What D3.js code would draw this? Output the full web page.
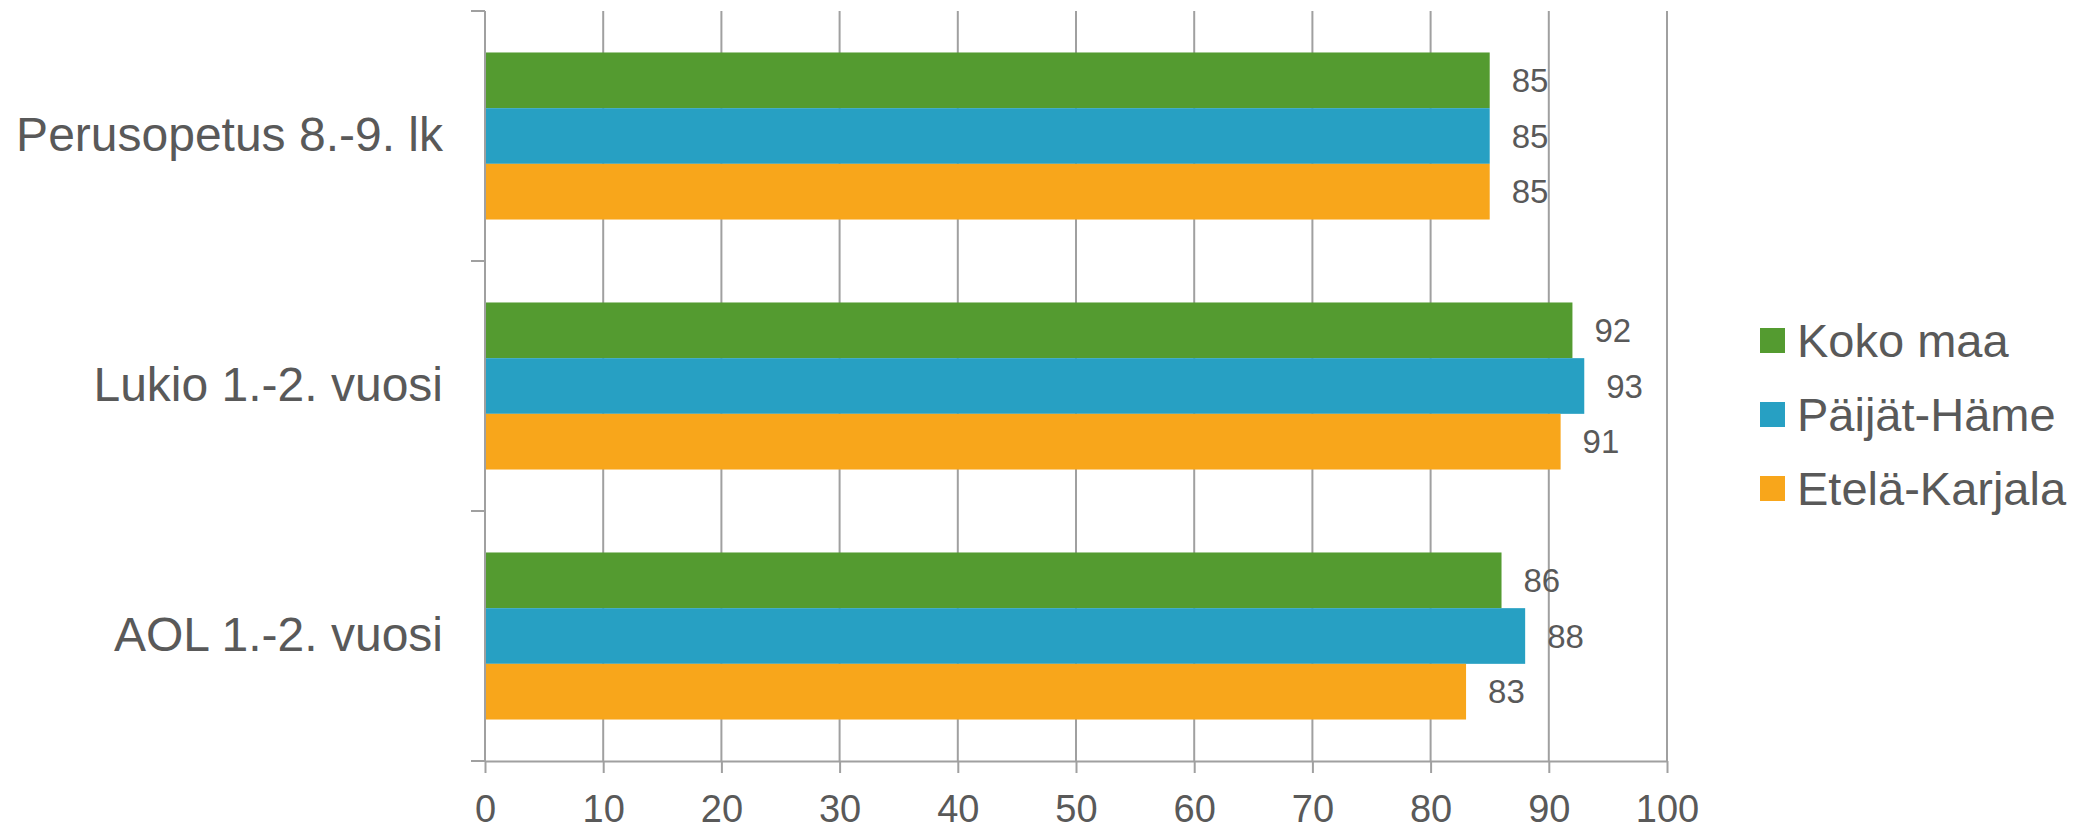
<!DOCTYPE html>
<html>
<head>
<meta charset="utf-8">
<script src="https://cdn.jsdelivr.net/npm/d3@7"></script>
<style>
  body { margin: 0; background: #fff; }
  text { font-family: "Liberation Sans", Arial, sans-serif; fill: #595959; }
</style>
</head>
<body>
<div id="chart"></div>
<script>
const width = 2083;
const height = 827;

const categories = ["Perusopetus 8.-9. lk", "Lukio 1.-2. vuosi", "AOL 1.-2. vuosi"];
const seriesNames = ["Koko maa", "Päijät-Häme", "Etelä-Karjala"];
const kokoMaa = [85, 92, 86];
const paijatHame = [85, 93, 88];
const etelaKarjala = [85, 91, 83];
const xTicks = [0, 10, 20, 30, 40, 50, 60, 70, 80, 90, 100];

const seriesValues = [kokoMaa, paijatHame, etelaKarjala];
const colors = ["#549b30", "#27a0c3", "#f8a61b"];
const gridColor = "#a0a0a0";

const svg = d3.select("#chart")
  .append("svg")
  .attr("width", width)
  .attr("height", height);

const x = d3.scaleLinear()
  .domain([0, 100])
  .range([485, 1667]);

const y = d3.scaleBand()
  .domain(categories)
  .range([11, 761]);

const ySub = d3.scaleBand()
  .domain(seriesNames)
  .range([0, y.bandwidth()])
  .paddingInner(0)
  .paddingOuter(0.745);

// vertical grid lines
svg.append("g")
  .selectAll("line")
  .data(xTicks.slice(1))
  .join("line")
  .attr("x1", d => x(d))
  .attr("x2", d => x(d))
  .attr("y1", 11)
  .attr("y2", 761)
  .attr("stroke", gridColor)
  .attr("stroke-width", 2);

// bars
const rows = [];
categories.forEach((c, i) => {
  seriesNames.forEach((s, j) => {
    rows.push({ cat: c, series: s, value: seriesValues[j][i], color: colors[j] });
  });
});

svg.append("g")
  .selectAll("rect")
  .data(rows)
  .join("rect")
  .attr("x", x(0))
  .attr("y", d => y(d.cat) + ySub(d.series))
  .attr("width", d => x(d.value) - x(0))
  .attr("height", ySub.bandwidth())
  .attr("fill", d => d.color);

// value labels
svg.append("g")
  .selectAll("text")
  .data(rows)
  .join("text")
  .attr("x", d => x(d.value) + 22)
  .attr("y", d => y(d.cat) + ySub(d.series) + ySub.bandwidth() / 2)
  .attr("dy", "0.35em")
  .style("font-size", "33px")
  .text(d => d.value);

// x axis
const xAxis = svg.append("g")
  .attr("transform", `translate(0,761)`)
  .call(d3.axisBottom(x).tickValues(xTicks).tickSize(12).tickSizeOuter(0).tickPadding(22));

xAxis.selectAll("line, path").attr("stroke", gridColor).attr("stroke-width", 2);
xAxis.selectAll("text")
  .style("font-size", "38px")
  .style("font-family", "'Liberation Sans', Arial, sans-serif")
  .attr("fill", "#595959");

// y axis line, boundary ticks and labels
const yAxis = svg.append("g")
  .attr("transform", `translate(${x(0)},0)`)
  .call(d3.axisLeft(y).tickSize(0).tickPadding(42));

yAxis.select("path").remove();
yAxis.selectAll("text")
  .style("font-size", "48px")
  .style("font-family", "'Liberation Sans', Arial, sans-serif")
  .attr("fill", "#595959");

const bounds = categories.map(c => y(c)).concat([y(categories[categories.length - 1]) + y.bandwidth()]);

svg.append("line")
  .attr("x1", x(0)).attr("x2", x(0))
  .attr("y1", y.range()[0]).attr("y2", y.range()[1])
  .attr("stroke", gridColor)
  .attr("stroke-width", 2);

svg.append("g")
  .selectAll("line")
  .data(bounds)
  .join("line")
  .attr("x1", x(0) - 14)
  .attr("x2", x(0))
  .attr("y1", d => d)
  .attr("y2", d => d)
  .attr("stroke", gridColor)
  .attr("stroke-width", 2);

// legend
const legend = svg.append("g")
  .attr("transform", "translate(1760,328)");

const items = legend.selectAll("g")
  .data(seriesNames)
  .join("g")
  .attr("transform", (d, i) => `translate(0,${i * 74})`);

items.append("rect")
  .attr("width", 25)
  .attr("height", 25)
  .attr("fill", (d, i) => colors[i]);

items.append("text")
  .attr("x", 37)
  .attr("y", 12.5)
  .attr("dy", "0.35em")
  .style("font-size", "47px")
  .text(d => d);
</script>
</body>
</html>
